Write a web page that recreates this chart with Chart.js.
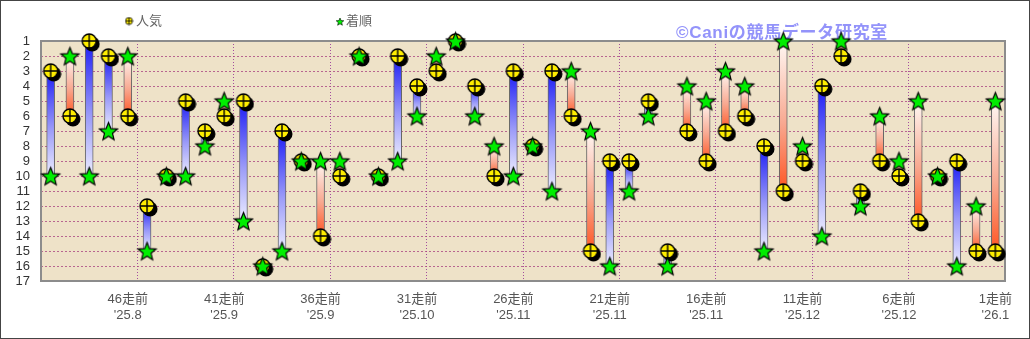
<!DOCTYPE html>
<html lang="ja">
<head>
<meta charset="utf-8">
<title>人気と着順</title>
<script src="https://cdn.jsdelivr.net/npm/chart.js@4.4.1/dist/chart.umd.min.js"></script>
<style>
  html, body { margin: 0; padding: 0; background: #fff; }
  #wrap { width: 1030px; height: 339px; }
</style>
</head>
<body>
<div id="wrap"><canvas id="rankChart" width="1030" height="339"></canvas></div>
<script>
// races, oldest first
const raceLabels = [
  '50走前', '49走前', '48走前', '47走前', '46走前', '45走前', '44走前', '43走前', '42走前', '41走前',
  '40走前', '39走前', '38走前', '37走前', '36走前', '35走前', '34走前', '33走前', '32走前', '31走前',
  '30走前', '29走前', '28走前', '27走前', '26走前', '25走前', '24走前', '23走前', '22走前', '21走前',
  '20走前', '19走前', '18走前', '17走前', '16走前', '15走前', '14走前', '13走前', '12走前', '11走前',
  '10走前', '9走前', '8走前', '7走前', '6走前', '5走前', '4走前', '3走前', '2走前', '1走前'
];
// dates shown under every 5th race (46走前, 41走前, ... 1走前)
const tickDates = ["'25.8", "'25.9", "'25.9", "'25.10", "'25.11", "'25.11", "'25.11", "'25.12", "'25.12", "'26.1"];

const popularity = [3, 6, 1, 2, 6, 12, 10, 5, 7, 6, 5, 16, 7, 9, 14, 10, 2, 10, 2, 4, 3, 1, 4, 10, 3,
                    8, 3, 6, 15, 9, 9, 5, 15, 7, 9, 7, 6, 8, 11, 9, 4, 2, 11, 9, 10, 13, 10, 9, 15, 15];
const finish = [10, 2, 10, 7, 2, 15, 10, 10, 8, 5, 13, 16, 15, 9, 9, 9, 2, 10, 9, 6, 2, 1, 6, 8, 10,
                8, 11, 3, 7, 16, 11, 6, 16, 4, 5, 3, 4, 15, 1, 8, 14, 1, 12, 6, 9, 5, 10, 16, 12, 5];

const FONT = '"Liberation Sans", "Noto Sans CJK JP", sans-serif';

// marker images
function makePopMarker(r, shadow) {
  const size = 2 * (r + shadow + 1);
  const c = document.createElement('canvas');
  c.width = c.height = size;
  const g = c.getContext('2d');
  const m = size / 2;
  if (shadow) {
    g.fillStyle = '#000';
    g.beginPath();
    g.arc(m + shadow, m + shadow, r + 0.5, 0, Math.PI * 2);
    g.fill();
  }
  g.fillStyle = '#ffee00';
  g.beginPath();
  g.arc(m, m, r, 0, Math.PI * 2);
  g.fill();
  g.strokeStyle = '#000';
  g.lineWidth = r > 4 ? 1.4 : 0.8;
  g.stroke();
  g.beginPath();
  g.moveTo(m - r, m); g.lineTo(m + r, m);
  g.moveTo(m, m - r); g.lineTo(m, m + r);
  g.stroke();
  return c;
}

function makeStar(R, ri, lw) {
  const size = Math.ceil(2 * R + 4);
  const c = document.createElement('canvas');
  c.width = c.height = size;
  const g = c.getContext('2d');
  const m = size / 2;
  g.beginPath();
  for (let k = 0; k < 10; k++) {
    const rad = k % 2 === 0 ? R : ri;
    const a = -Math.PI / 2 + k * Math.PI / 5;
    const px = m + rad * Math.cos(a), py = m + 1 + rad * Math.sin(a);
    k === 0 ? g.moveTo(px, py) : g.lineTo(px, py);
  }
  g.closePath();
  g.fillStyle = '#00ee00';
  g.fill();
  g.strokeStyle = '#000';
  g.lineWidth = lw;
  g.stroke();
  return c;
}

const popImg = makePopMarker(7, 3);
const starImg = makeStar(9.5, 4.2, 1.2);
const popLegend = makePopMarker(3.5, 0);
const starLegend = makeStar(4, 1.8, 0.6);

// bar fill: strong colour at the popularity end, fading toward the finish end
function barFill(c) {
  const chart = c.chart;
  const y = chart.scales.y;
  if (!chart.chartArea || !y || !c.raw) return '#88f';
  const [p, f] = c.raw;
  const yp = y.getPixelForValue(p);
  const yf = y.getPixelForValue(f);
  if (yp === yf) return '#88f';
  const g = chart.ctx.createLinearGradient(0, yp, 0, yf);
  if (f > p) {
    g.addColorStop(0, '#1c1cf5');
    g.addColorStop(0.55, '#9a9af8');
    g.addColorStop(1, '#ececff');
  } else {
    g.addColorStop(0, '#ff5522');
    g.addColorStop(0.45, '#f8a890');
    g.addColorStop(1, '#fff8f4');
  }
  return g;
}

const framePlugin = {
  id: 'frame',
  beforeDraw(chart) {
    const { ctx, chartArea: a } = chart;
    ctx.save();
    ctx.fillStyle = '#fff';
    ctx.fillRect(0, 0, chart.width, chart.height);
    ctx.fillStyle = '#eee2c8';
    ctx.fillRect(a.left, a.top, a.right - a.left, a.bottom - a.top);
    ctx.restore();
  },
  beforeDatasetsDraw(chart) {
    const { ctx, chartArea: a } = chart;
    ctx.save();
    // plot border
    ctx.strokeStyle = '#8c8c8c';
    ctx.lineWidth = 2;
    ctx.strokeRect(a.left, a.top, a.right - a.left, a.bottom - a.top);

    // legend
    ctx.font = '13px ' + FONT;
    ctx.fillStyle = '#666';
    ctx.textBaseline = 'middle';
    ctx.drawImage(popLegend, 129 - popLegend.width / 2, 21 - popLegend.height / 2);
    ctx.fillText('人気', 136, 21);
    ctx.drawImage(starLegend, 340 - starLegend.width / 2, 21 - starLegend.height / 2);
    ctx.fillText('着順', 346, 21);

    // watermark
    const mark = '©Caniの競馬データ研究室';
    ctx.font = 'bold 17px ' + FONT;
    const w = ctx.measureText(mark).width;
    ctx.letterSpacing = ((212 - w) / mark.length).toFixed(2) + 'px';
    ctx.fillStyle = 'rgba(135, 135, 250, 0.9)';
    ctx.textBaseline = 'alphabetic';
    ctx.fillText(mark, 676, 38);
    ctx.restore();
  },
  afterDraw(chart) {
    const ctx = chart.ctx;
    ctx.save();
    ctx.strokeStyle = '#444';
    ctx.lineWidth = 1;
    ctx.strokeRect(0.5, 0.5, chart.width - 1, chart.height - 1);
    ctx.restore();
  }
};

new Chart(document.getElementById('rankChart'), {
  type: 'bar',
  data: {
    labels: raceLabels,
    datasets: [
      {
        type: 'line',
        label: '着順',
        data: finish,
        showLine: false,
        pointStyle: starImg,
        pointRadius: 9,
        order: 1,
        clip: false
      },
      {
        type: 'line',
        label: '人気',
        data: popularity,
        showLine: false,
        pointStyle: popImg,
        pointRadius: 8,
        order: 2,
        clip: false
      },
      {
        type: 'bar',
        label: '差',
        data: popularity.map((p, i) => [p, finish[i]]),
        backgroundColor: barFill,
        borderColor: '#666',
        borderWidth: 1,
        borderSkipped: false,
        barThickness: 8,
        order: 3,
        clip: false
      }
    ]
  },
  options: {
    responsive: false,
    animation: false,
    events: [],
    layout: { padding: { top: 41, right: 25, bottom: 0, left: 0 } },
    plugins: {
      legend: { display: false },
      tooltip: { enabled: false }
    },
    scales: {
      x: {
        type: 'category',
        offset: true,
        afterFit: s => { s.height = 58; },
        grid: {
          offset: true,
          drawTicks: false,
          lineWidth: 1,
          color: c => (c.index > 0 && c.index < 50 && c.index % 5 === 0) ? 'rgba(150, 50, 150, 0.85)' : 'rgba(0,0,0,0)'
        },
        border: { display: false, dash: [1, 2] },
        ticks: {
          autoSkip: false,
          maxRotation: 0,
          padding: 11,
          color: '#555',
          font: { family: FONT, size: 13 },
          callback: (v, i) => i % 5 === 4 ? [raceLabels[i], tickDates[(i - 4) / 5]] : ''
        }
      },
      y: {
        type: 'linear',
        reverse: true,
        min: 1,
        max: 17,
        afterFit: s => { s.width = 41; },
        grid: {
          drawTicks: false,
          lineWidth: 1,
          color: 'rgba(170, 70, 130, 0.8)'
        },
        border: { display: false, dash: [2, 2] },
        ticks: {
          stepSize: 1,
          autoSkip: false,
          padding: 11,
          color: '#333',
          font: { family: FONT, size: 13 }
        }
      }
    }
  },
  plugins: [framePlugin]
});
</script>
</body>
</html>
